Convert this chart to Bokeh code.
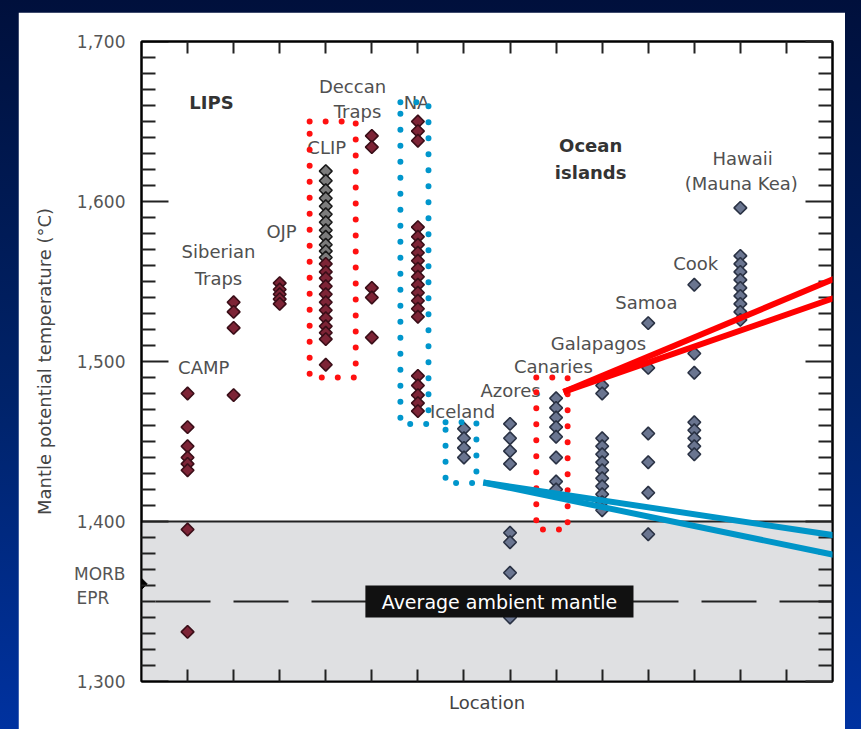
import numpy as np
from bokeh.plotting import figure
from bokeh.models import (FixedTicker, LinearAxis, Span, BoxAnnotation,
                          Arrow, Range1d, GlobalInlineStyleSheet)
from bokeh.layouts import column
from bokeh.core.properties import value
from bokeh.embed import file_html
from bokeh.resources import INLINE

# ---------------- data ----------------
lip_names = ["CAMP", "Siberian Traps", "OJP", "CLIP", "Deccan Traps", "NA"]
lip_pos = [1, 2, 3, 4, 5, 6]
camp = [1480, 1459, 1447, 1440, 1436, 1432, 1395, 1331]
siberian = [1537, 1531, 1521, 1479]
ojp = [1549, 1545, 1542, 1539, 1536]
clip_upper = [1619, 1613, 1607, 1602, 1597, 1592, 1587, 1582, 1578, 1573, 1569, 1565]
clip_lower = [1561, 1556, 1552, 1547, 1542, 1537, 1532, 1527, 1522, 1518, 1514, 1498]
deccan = [1641, 1634, 1546, 1540, 1515]
na = [1650, 1644, 1638, 1584, 1578, 1573, 1568, 1563, 1558, 1553, 1548, 1543,
      1538, 1533, 1528, 1491, 1485, 1479, 1474, 1469]

oi_names = ["Iceland", "Azores", "Canaries", "Galapagos", "Samoa", "Cook", "Hawaii (Mauna Kea)"]
oi_pos = [7, 8, 9, 10, 11, 12, 13]
iceland = [1458, 1452, 1446, 1440]
azores = [1461, 1452, 1444, 1436, 1393, 1387, 1368, 1340]
canaries = [1477, 1471, 1465, 1459, 1453, 1440, 1425, 1420]
galapagos = [1485, 1480, 1452, 1447, 1442, 1437, 1432, 1427, 1422, 1417, 1412, 1407]
samoa = [1524, 1496, 1455, 1437, 1418, 1392]
cook = [1548, 1505, 1493, 1462, 1457, 1452, 1447, 1442]
hawaii = [1596, 1566, 1561, 1556, 1551, 1546, 1541, 1536, 1531, 1526]

morb_epr = 1361
ambient_mantle = 1350
morb_upper = 1400

y_ticks = [1300, 1400, 1500, 1600, 1700]
y_tick_labels = ["1,300", "1,400", "1,500", "1,600", "1,700"]
morb_label_ticks = [1367, 1352]
morb_label_texts = ["MORB", "EPR\u00a0\u00a0\u00a0"]
x_ticks = list(range(1, 15))

# label texts and placements
site_labels = ["CAMP", "Siberian", "Traps", "OJP", "CLIP", "Deccan", "Traps", "NA",
               "Iceland", "Azores", "Canaries", "Galapagos", "Samoa", "Cook", "Hawaii", "(Mauna Kea)"]
site_label_x = [1.35, 1.67, 1.67, 3.04, 4.02, 4.58, 4.69, 5.97,
                6.97, 8.01, 8.94, 9.92, 10.96, 12.03, 13.05, 13.02]
site_label_y = [1496, 1569, 1552, 1581, 1634, 1672, 1656, 1662,
                1469, 1482, 1497, 1511, 1537, 1561, 1627, 1611]
group_labels = ["LIPS", "Ocean", "islands"]
group_label_x = [1.52, 9.75, 9.75]
group_label_y = [1662, 1635, 1618]

# ---------------- figure ----------------
p = figure(width=827, height=717, x_range=Range1d(0, 15), y_range=Range1d(1300, 1700),
           output_backend="svg", toolbar_location=None,
           min_border_left=123, min_border_right=13, min_border_top=29, min_border_bottom=48,
           background_fill_color="white", border_fill_color="white")
p.xgrid.visible = False
p.ygrid.visible = False
p.outline_line_color = "black"
p.outline_line_width = 2

FONT = "DejaVu Sans"
minor_y = [v for v in range(1300, 1701, 10) if v % 100]

# left axis: value labels plus the MORB / EPR marker labels
left_majors = y_ticks + morb_label_ticks
left_overrides = {t: s for t, s in zip(y_ticks, y_tick_labels)}
left_overrides.update({t: s for t, s in zip(morb_label_ticks, morb_label_texts)})
yax = p.yaxis[0]
yax.ticker = FixedTicker(ticks=left_majors, minor_ticks=minor_y)
yax.major_label_overrides = left_overrides
yax.axis_label = "Mantle potential temperature (°C)"
yax.axis_label_text_font = FONT
yax.axis_label_text_font_size = "18px"
yax.axis_label_text_font_style = "normal"
yax.axis_label_text_color = "#444444"
yax.axis_label_standoff = 16
yax.major_label_text_font = FONT
yax.major_label_text_font_size = "17px"
yax.major_label_text_color = "#555555"
yax.major_label_standoff = 16
yax.major_tick_in = 0
yax.major_tick_out = 0
yax.minor_tick_in = 14
yax.minor_tick_out = 0

rax = LinearAxis(ticker=FixedTicker(ticks=y_ticks, minor_ticks=minor_y),
                 major_label_overrides={t: "" for t in y_ticks},
                 major_label_text_color=None)
p.add_layout(rax, "right")
rax.major_tick_in = 27
rax.major_tick_out = 0
rax.minor_tick_in = 14
rax.minor_tick_out = 0

xt = FixedTicker(ticks=x_ticks, minor_ticks=[])
xax = p.xaxis[0]
xax.ticker = xt
xax.major_label_overrides = {t: "" for t in x_ticks}
xax.major_label_text_color = None
xax.axis_label = "Location"
xax.axis_label_text_font = FONT
xax.axis_label_text_font_size = "18px"
xax.axis_label_text_font_style = "normal"
xax.axis_label_text_color = "#444444"
xax.axis_label_standoff = 10

tax = LinearAxis(ticker=xt, major_label_overrides={t: "" for t in x_ticks},
                 major_label_text_color=None)
p.add_layout(tax, "above")

for ax in (xax, tax):
    ax.major_tick_in = 12
    ax.major_tick_out = 0
    ax.minor_tick_in = 0
    ax.minor_tick_out = 0
for ax in (yax, rax, xax, tax):
    ax.axis_line_color = "black"
    ax.axis_line_width = 2
    ax.major_tick_line_color = "#222222"
    ax.major_tick_line_width = 2
    ax.minor_tick_line_color = "#222222"
    ax.minor_tick_line_width = 2

# MORB region
p.add_layout(BoxAnnotation(top=morb_upper, fill_color="#dfe0e2", fill_alpha=1,
                           line_color=None, level="underlay"))
p.add_layout(Span(location=morb_upper, dimension="width", line_color="#222222",
                  line_width=2, level="underlay"))
p.add_layout(Span(location=ambient_mantle, dimension="width", line_color="#222222",
                  line_width=2, line_dash="55 23", line_dash_offset=64, level="underlay"))

# long major ticks on the left side (inside the frame)
tick_len = 27 / (691 / 15)
p.segment(x0=[0] * len(y_ticks), x1=[tick_len] * len(y_ticks), y0=y_ticks, y1=y_ticks,
          line_color="#222222", line_width=2)

# ---------------- points ----------------
def series_points(groups, positions):
    xs, ys = [], []
    for g, x in zip(groups, positions):
        xs += [x] * len(g)
        ys += list(g)
    return xs, ys

red_x, red_y = series_points([camp, siberian, ojp, clip_lower, deccan, na], lip_pos)
gray_x, gray_y = series_points([clip_upper], [lip_pos[3]])
blue_x, blue_y = series_points([iceland, azores, canaries, galapagos, samoa, cook, hawaii], oi_pos)

p.scatter(blue_x, blue_y, marker="square", angle=np.pi / 4, size=9,
          fill_color="#6a7590", line_color="#2a3244", line_width=1.6)
p.scatter(gray_x, gray_y, marker="square", angle=np.pi / 4, size=9,
          fill_color="#7c7c7c", line_color="#1a1a1a", line_width=1.6)
p.scatter(red_x, red_y, marker="square", angle=np.pi / 4, size=9,
          fill_color="#7d2436", line_color="#3a0e18", line_width=1.6)
p.scatter([0], [morb_epr], marker="square", angle=np.pi / 4, size=8,
          fill_color="black", line_color="black")

# Average ambient mantle label box
p.quad(left=[4.86], right=[10.68], bottom=[1340], top=[1360], fill_color="#111111", line_color=None)
p.text(x=[7.77], y=[ambient_mantle], text=["Average ambient mantle"], text_color="white",
       text_font=value(FONT), text_font_size="19px", text_align="center", text_baseline="middle")

# site labels
p.text(x=site_label_x, y=site_label_y, text=site_labels, text_color="#505050",
       text_font=value(FONT), text_font_size="18px", text_align="center", text_baseline="middle")
p.text(x=group_label_x, y=group_label_y, text=group_labels, text_color="#333333",
       text_font=value(FONT), text_font_size="18px", text_font_style="bold",
       text_align="center", text_baseline="middle")

# dotted highlight boxes
boxes = [((3.65, 4.65, 1490, 1650), "#ff1010"),
         ((5.62, 6.23, 1461, 1662), "#0096cc"),
         ((6.60, 7.27, 1424, 1462), "#0096cc"),
         ((8.57, 9.25, 1395, 1490), "#ff1010")]
for (l, r, b, t), c in boxes:
    p.line([l, r, r, l, l], [t, t, b, b, t], line_color=c, line_width=6,
           line_dash="0 16", line_cap="round")

# callout lines
callouts = [((9.16, 1481), (15.63, 1558.8), "#ff0000"),
            ((9.16, 1481), (15.63, 1545.6), "#ff0000"),
            ((7.42, 1424.4), (15.63, 1388.8), "#0095c8"),
            ((7.42, 1424.4), (15.63, 1375.6), "#0095c8")]
for (x0, y0), (x1, y1), c in callouts:
    p.add_layout(Arrow(end=None, x_start=x0, y_start=y0, x_end=x1, y_end=y1,
                       line_color=c, line_width=6))

css = GlobalInlineStyleSheet(css="body { background: linear-gradient(to bottom, #00103c 0%, #00236a 55%, #0032a0 100%); }")
root = column(p, styles={"padding": "12px 16px 0px 18px"}, stylesheets=[css])

open("out.html", "w").write(file_html(root, INLINE))
